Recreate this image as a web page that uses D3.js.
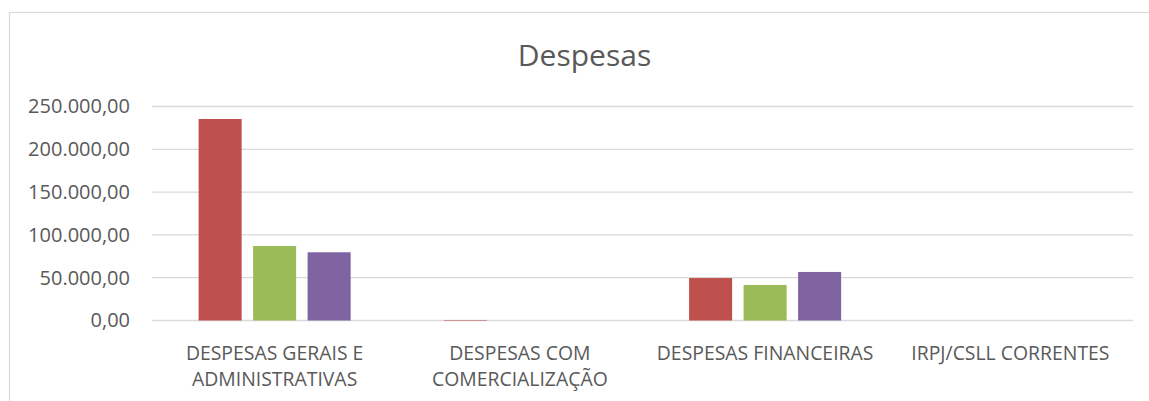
<!DOCTYPE html>
<html>
<head>
<meta charset="utf-8">
<script src="https://cdn.jsdelivr.net/npm/d3@7"></script>
<style>
    body { margin: 0; background: #fff; }
    svg { display: block; }
    text { font-family: "Open Sans", "Noto Sans", sans-serif; fill: #595959; }
</style>
</head>
<body>
<div id="chart"></div>
<script>
// Chart data
var categories = [
    ["DESPESAS GERAIS E", "ADMINISTRATIVAS"],
    ["DESPESAS COM", "COMERCIALIZAÇÃO"],
    ["DESPESAS FINANCEIRAS"],
    ["IRPJ/CSLL CORRENTES"]
];
var seriesNames = ["Série 1", "Série 2", "Série 3"];
var seriesColors = ["#C0504D", "#9BBB59", "#8064A2"];
var serie1 = [235400, 600, 49600, 0];
var serie2 = [87000, 0, 41500, 0];
var serie3 = [79700, 0, 56700, 0];
var yTicks = [0, 50000, 100000, 150000, 200000, 250000];
var chartTitle = "Despesas";

var width = 1149, height = 401;
var plot = { left: 152, right: 1133, top: 106.5, bottom: 320.5 };

var svg = d3.select('#chart').append('svg')
    .attr('width', width)
    .attr('height', height);

// chart area frame (runs off the picture on the right and bottom)
svg.append('rect')
    .attr('x', 9.5).attr('y', 12.5)
    .attr('width', 1151).attr('height', 400)
    .attr('fill', 'none')
    .attr('stroke', '#d9d9d9')
    .attr('stroke-width', 1.2);

svg.append('text')
    .attr('x', 584.5).attr('y', 66)
    .attr('text-anchor', 'middle')
    .style('font-size', '30px')
    .text(chartTitle);

var ptBR = d3.formatLocale({ decimal: ',', thousands: '.', grouping: [3], currency: ['R$', ''] });
var fmt = ptBR.format(',.2f');

var x = d3.scaleBand()
    .domain(d3.range(categories.length))
    .range([plot.left, plot.right]);

var bw = x.bandwidth();
var xs = d3.scaleBand()
    .domain(d3.range(seriesNames.length))
    .range([bw * 0.19, bw * 0.81])
    .paddingInner(0.21);

var y = d3.scaleLinear()
    .domain([0, 250000])
    .range([plot.bottom, plot.top]);

// gridlines
svg.append('g').selectAll('line')
    .data(yTicks)
    .enter()
    .append('line')
        .attr('x1', plot.left).attr('x2', plot.right)
        .attr('y1', function(d) { return y(d); })
        .attr('y2', function(d) { return y(d); })
        .attr('stroke', '#d9d9d9')
        .attr('stroke-width', 1.3);

// y axis labels
var yAxis = d3.axisLeft(y).tickValues(yTicks).tickFormat(fmt).tickSize(0).tickPadding(22);
var gy = svg.append('g').attr('transform', 'translate(' + plot.left + ',0)').call(yAxis);
gy.select('.domain').remove();
gy.selectAll('text')
    .style('font-size', '20px')
    .style('font-family', '"Open Sans", sans-serif')
    .attr('fill', '#595959');

// bars
var allSeries = [serie1, serie2, serie3];
var rows = [];
allSeries.forEach(function(vals, s) {
    vals.forEach(function(v, c) { rows.push({ s: s, c: c, v: v }); });
});

svg.append('g').selectAll('rect')
    .data(rows.filter(function(d) { return d.v > 0; }))
    .enter()
    .append('rect')
        .attr('x', function(d) { return x(d.c) + xs(d.s); })
        .attr('width', xs.bandwidth())
        .attr('y', function(d) { return y(d.v); })
        .attr('height', function(d) { return y(0) - y(d.v); })
        .attr('fill', function(d) { return seriesColors[d.s]; });

// category labels
var labels = svg.append('g').selectAll('text')
    .data(categories)
    .enter()
    .append('text')
        .attr('text-anchor', 'middle')
        .attr('x', function(d, i) { return x(i) + bw / 2; })
        .attr('y', 360)
        .style('font-size', '19.4px');

labels.selectAll('tspan')
    .data(function(d) { return d; })
    .enter()
    .append('tspan')
        .attr('x', function() { return d3.select(this.parentNode).attr('x'); })
        .attr('dy', function(d, i) { return i === 0 ? 0 : 26; })
        .text(function(d) { return d; });
</script>
</body>
</html>
